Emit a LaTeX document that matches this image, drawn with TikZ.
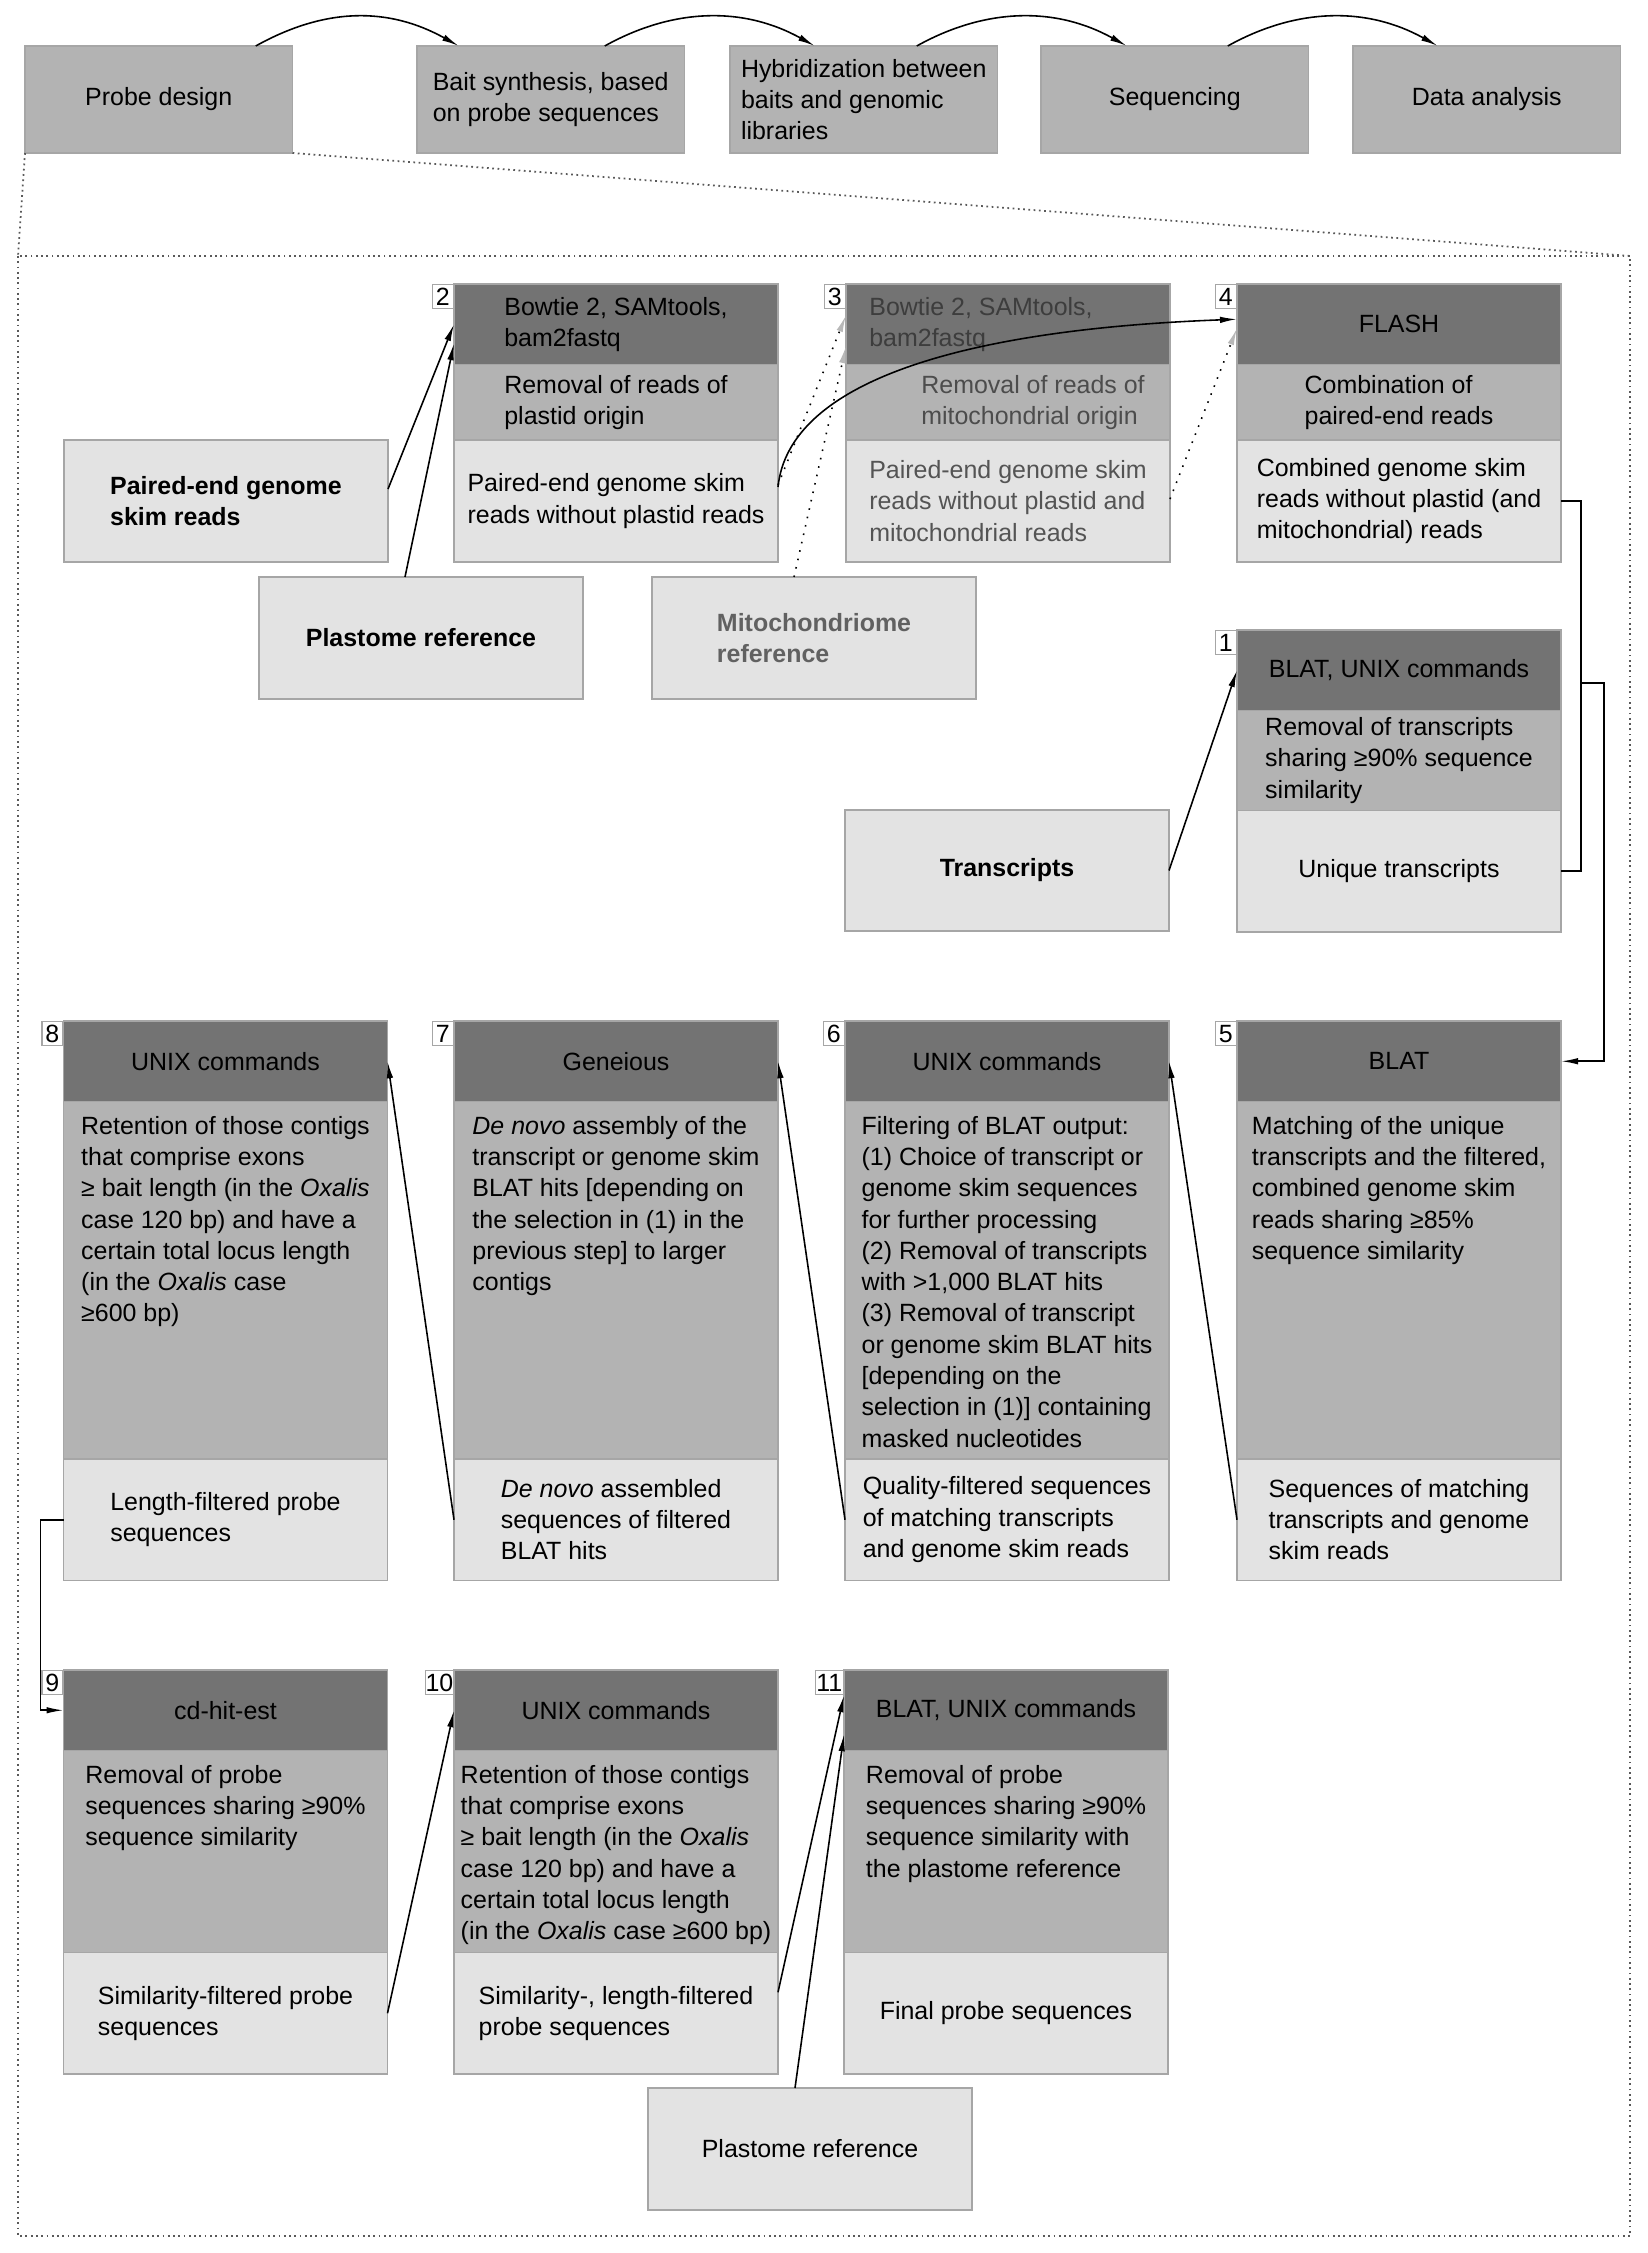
\documentclass[tikz,border=0pt]{standalone}
\usepackage{fontspec}
\setmainfont{Liberation Sans}
\usetikzlibrary{positioning,arrows.meta,calc}
\definecolor{cHead}{HTML}{737373}
\definecolor{cMid}{HTML}{B3B3B3}
\definecolor{cOut}{HTML}{E3E3E3}
\definecolor{cLine}{HTML}{A6A6A6}
\definecolor{cTip}{HTML}{B8B8B8}
\newcommand{\boxfont}{\fontsize{7.1}{8.9}\selectfont}

\begin{document}
\begin{tikzpicture}[
    x=0.1mm, y=-0.1mm,
    box/.style={rectangle, draw=cLine, line width=0.35pt, inner sep=0pt, outer sep=0pt, minimum width=32.4mm, align=left, font=\boxfont},
    stage/.style={box, fill=cMid, minimum width=26.75mm, minimum height=10.7mm},
    head/.style={box, fill=cHead, minimum height=8.05mm},
    midsec/.style={box, fill=cMid},
    outsec/.style={box, fill=cOut, minimum height=12.15mm},
    inbox/.style={box, fill=cOut, minimum height=12.2mm, font=\boxfont\bfseries},
    txt/.style={inner sep=0pt, align=left, font=\boxfont},
    numlab/.style={draw=cLine, line width=0.35pt, fill=white, inner sep=0pt, minimum width=2.1mm, minimum height=2.4mm, font=\boxfont},
    frame/.style={densely dotted, draw=black!65, line width=0.5pt},
    arr/.style={-{Latex[length=1.7mm,width=0.65mm]}, line width=0.45pt},
    dotarr/.style={dotted, line width=0.45pt, -{Latex[length=1.7mm,width=0.65mm,color=cTip]}}
]
\useasboundingbox (0,0) rectangle (1648,2253);

% workflow
\node[stage, anchor=north west] (pd) at (25,46) {Probe design};
\node[stage, anchor=north west] (bs) at (417,46) {Bait synthesis, based\\on probe sequences};
\node[stage, anchor=north west] (hy) at (730,46) {Hybridization between\\baits and genomic\\libraries};
\node[stage, anchor=north west] (sq) at (1041,46) {Sequencing};
\node[stage, anchor=north west] (da) at (1353,46) {Data analysis};

\draw[arr] ($(pd.north)+(97,0)$) .. controls +(70,-39) and +(-70,-39) .. ($(bs.north)+(-92,0)$);
\draw[arr] ($(bs.north)+(54,0)$) .. controls +(70,-39) and +(-70,-39) .. ($(hy.north)+(-49,0)$);
\draw[arr] ($(hy.north)+(53,0)$) .. controls +(70,-39) and +(-70,-39) .. ($(sq.north)+(-48,0)$);
\draw[arr] ($(sq.north)+(53,0)$) .. controls +(70,-39) and +(-70,-39) .. ($(da.north)+(-49,0)$);

\coordinate (fnw) at (18,256);
\coordinate (fne) at (1630,256);
\coordinate (fse) at (1630,2236);
\draw[frame] (fnw) rectangle (fse);
\draw[frame] (pd.south west) -- (fnw);
\draw[frame] (pd.south east) -- (fne);

% inputs
\node[inbox, anchor=north west] (pe) at (64,440) {Paired-end genome\\skim reads};
\node[inbox, anchor=north west] (pr1) at (259,577) {Plastome reference};
\node[inbox, anchor=north west, text=black!62] (mi) at (652,577) {Mitochondriome\\reference};
\node[inbox, anchor=north west, minimum height=12.1mm] (tr) at (845,810) {Transcripts};
\node[box, fill=cOut, minimum height=12.2mm, anchor=north west] (pr2) at (648,2088) {Plastome reference};

% steps 2, 3, 4
\node[head, anchor=north west] (h2) at (454,284) {Bowtie 2, SAMtools,\\bam2fastq};
\node[midsec, below=0mm of h2, minimum height=7.55mm] (m2) {Removal of reads of\\plastid origin};
\node[outsec, below=0mm of m2, minimum height=12.2mm] (o2) {Paired-end genome skim\\reads without plastid reads};
\node[numlab, anchor=north east] (n2) at (h2.north west) {2};

\node[head, anchor=north west, text=black!76] (h3) at (846,284) {Bowtie 2, SAMtools,\hspace*{5.4mm}\\bam2fastq};
\node[midsec, below=0mm of h3, minimum height=7.55mm, text=black!70] (m3) {\hspace*{5mm}Removal of reads of\\\hspace*{5mm}mitochondrial origin};
\node[outsec, below=0mm of m3, minimum height=12.2mm, text=black!67] (o3) {Paired-end genome skim\\reads without plastid and\\mitochondrial reads};
\node[numlab, anchor=north east] (n3) at (h3.north west) {3};

\node[head, anchor=north west] (h4) at (1237,284) {FLASH};
\node[midsec, below=0mm of h4, minimum height=7.55mm] (m4) {Combination of\\paired-end reads};
\node[outsec, below=0mm of m4, minimum height=12.2mm] (o4) {Combined genome skim\\reads without plastid (and\\mitochondrial) reads};
\node[numlab, anchor=north east] (n4) at (h4.north west) {4};

% step 1
\node[head, anchor=north west] (h1) at (1237,630) {BLAT, UNIX commands};
\node[midsec, below=0mm of h1, minimum height=10mm] (m1) {Removal of transcripts\\sharing ≥90\% sequence\\similarity};
\node[outsec, below=0mm of m1] (o1) {Unique transcripts};
\node[numlab, anchor=north east] (n1) at (h1.north west) {1};

% steps 5 to 8
\node[head, anchor=north west] (h5) at (1237,1021) {BLAT};
\node[midsec, below=0mm of h5, minimum height=35.75mm] (m5) {};
\node[outsec, below=0mm of m5] (o5) {Sequences of matching\\transcripts and genome\\skim reads};
\node[txt, below=1.4mm of m5.north] (d5) {Matching of the unique\\transcripts and the filtered,\\combined genome skim\\reads sharing ≥85\%\\sequence similarity};
\node[numlab, anchor=north east] (n5) at (h5.north west) {5};

\node[head, anchor=north west] (h6) at (845,1021) {UNIX commands};
\node[midsec, below=0mm of h6, minimum height=35.75mm] (m6) {};
\node[outsec, below=0mm of m6] (o6) {Quality-filtered sequences\\of matching transcripts\\and genome skim reads};
\node[txt, below=1.4mm of m6.north] (d6) {Filtering of BLAT output:\\(1) Choice of transcript or\\genome skim sequences\\for further processing\\(2) Removal of transcripts\\with >1,000 BLAT hits\\(3) Removal of transcript\\or genome skim BLAT hits\\{[}depending on the\\selection in (1)] containing\\masked nucleotides};
\node[numlab, anchor=north east] (n6) at (h6.north west) {6};

\node[head, anchor=north west] (h7) at (454,1021) {Geneious};
\node[midsec, below=0mm of h7, minimum height=35.75mm] (m7) {};
\node[outsec, below=0mm of m7] (o7) {\textit{De novo} assembled\\sequences of filtered\\BLAT hits};
\node[txt, below=1.4mm of m7.north] (d7) {\textit{De novo} assembly of the\\transcript or genome skim\\BLAT hits [depending on\\the selection in (1) in the\\previous step] to larger\\contigs};
\node[numlab, anchor=north east] (n7) at (h7.north west) {7};

\node[head, anchor=north west] (h8) at (63.5,1021) {UNIX commands};
\node[midsec, below=0mm of h8, minimum height=35.75mm] (m8) {};
\node[outsec, below=0mm of m8] (o8) {Length-filtered probe\\sequences};
\node[txt, below=1.4mm of m8.north] (d8) {Retention of those contigs\\that comprise exons\\≥ bait length (in the \textit{Oxalis}\\case 120 bp) and have a\\certain total locus length\\(in the \textit{Oxalis} case\\≥600 bp)};
\node[numlab, anchor=north east] (n8) at (h8.north west) {8};

% steps 9 to 11
\node[head, anchor=north west] (h9) at (63.5,1670) {cd-hit-est};
\node[midsec, below=0mm of h9, minimum height=20.2mm] (m9) {};
\node[outsec, below=0mm of m9] (o9) {Similarity-filtered probe\\sequences};
\node[txt, below=1.4mm of m9.north] (d9) {Removal of probe\\sequences sharing ≥90\%\\sequence similarity};
\node[numlab, anchor=north east] (n9) at (h9.north west) {9};

\node[head, anchor=north west] (h10) at (454,1670) {UNIX commands};
\node[midsec, below=0mm of h10, minimum height=20.2mm] (m10) {};
\node[outsec, below=0mm of m10] (o10) {Similarity-, length-filtered\\probe sequences};
\node[txt, below=1.4mm of m10.north] (d10) {Retention of those contigs\\that comprise exons\\≥ bait length (in the \textit{Oxalis}\\case 120 bp) and have a\\certain total locus length\\(in the \textit{Oxalis} case ≥600 bp)};
\node[numlab, anchor=north east, minimum width=2.8mm] (n10) at (h10.north west) {10};

\node[head, anchor=north west] (h11) at (844,1670) {BLAT, UNIX commands};
\node[midsec, below=0mm of h11, minimum height=20.2mm] (m11) {};
\node[outsec, below=0mm of m11] (o11) {Final probe sequences};
\node[txt, below=1.4mm of m11.north] (d11) {Removal of probe\\sequences sharing ≥90\%\\sequence similarity with\\the plastome reference};
\node[numlab, anchor=north east, minimum width=2.8mm] (n11) at (h11.north west) {11};

% connectors
\draw[arr] ($(pe.east)+(0,-12)$) -- (h2.west);
\draw[arr] ($(pr1.north)+(-16,0)$) -- ($(h2.west)+(0,19)$);
\draw[dotarr] ($(o2.east)+(0,-16)$) -- ($(h3.west)+(0,-9)$);
\draw[dotarr] ($(mi.north)+(-20,0)$) -- ($(h3.west)+(0,22)$);
\draw[arr] ($(o2.east)+(0,-14)$) .. controls +(11,-107) and +(-270,10) .. ($(h4.west)+(0,-5)$);
\draw[dotarr] ($(o3.east)+(0,-2)$) -- ($(h4.west)+(0,4)$);
\draw[arr] (tr.east) -- (h1.west);

\coordinate (jn) at (1581,683);
\draw[line width=0.45pt] (o4.east) -| (jn);
\draw[line width=0.45pt] (o1.east) -| (jn);
\draw[arr] (jn) -- ++(23,0) |- (h5.east);

\draw[arr] (o5.west) -- (h6.east);
\draw[arr] (o6.west) -- (h7.east);
\draw[arr] (o7.west) -- (h8.east);
\draw[arr] (o8.west) -- ++(-23,0) |- (h9.west);
\draw[arr] (o9.east) -- (h10.west);
\draw[arr] ($(o10.east)+(0,-21)$) -- ($(h11.west)+(0,-15)$);
\draw[arr] ($(pr2.north)+(-15,0)$) -- ($(h11.west)+(0,24)$);
\end{tikzpicture}
\end{document}
